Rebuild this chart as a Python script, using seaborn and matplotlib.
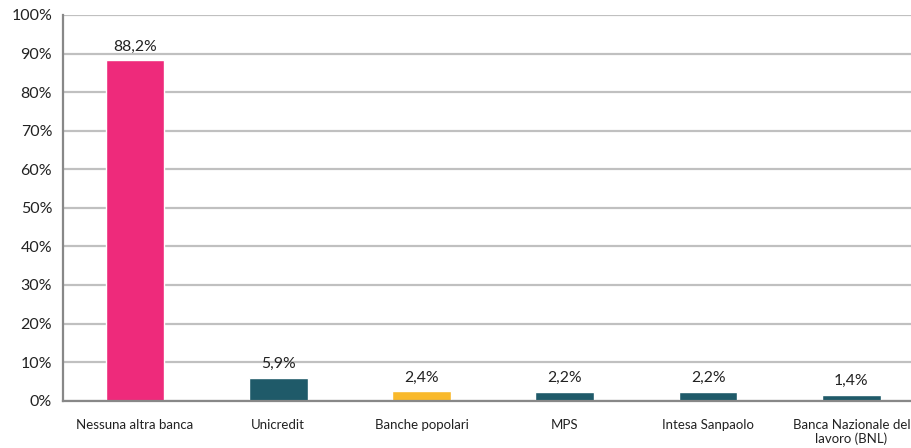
import seaborn as sns
import matplotlib.pyplot as plt
import pandas as pd
import numpy as np
from matplotlib.ticker import FixedLocator, PercentFormatter

categories = ["Nessuna altra banca", "Unicredit", "Banche popolari", "MPS",
              "Intesa Sanpaolo", "Banca Nazionale del\nlavoro (BNL)"]
values = [88.2, 5.9, 2.4, 2.2, 2.2, 1.4]
labels = ["88,2%", "5,9%", "2,4%", "2,2%", "2,2%", "1,4%"]
colors = ["#EE2A7B", "#1F5A69", "#F9B92B", "#1F5A69", "#1F5A69", "#1F5A69"]

df = pd.DataFrame({"cat": categories, "val": values})

sns.set_style("white")
plt.rcParams['font.family'] = ['Lato', 'DejaVu Sans']

fig = plt.figure(figsize=(9.11, 4.48), dpi=100)
ax = fig.add_axes([0.0695, 0.1056, 0.9437, 0.861])

sns.barplot(data=df, x="cat", y="val", hue="cat", palette=colors,
            width=0.41, legend=False, ax=ax, saturation=1)

ax.set_ylim(0, 100)
ax.set_xlim(-0.5, 5.5)
ax.yaxis.set_major_locator(FixedLocator(np.arange(0, 101, 10)))
ax.yaxis.set_major_formatter(PercentFormatter(decimals=0))
ax.grid(axis="y", color="#C0C0C0", linewidth=1.6, zorder=0)
ax.set_axisbelow(True)

for s in ["top", "right"]:
    ax.spines[s].set_visible(False)
for s in ["left", "bottom"]:
    ax.spines[s].set_color("#888888")
    ax.spines[s].set_linewidth(1.6)

ax.tick_params(axis="y", length=5, width=1.6, color="#888888", direction="out",
               labelsize=11.5, labelcolor="#222222", pad=3)
ax.tick_params(axis="x", which="major", length=0, labelsize=9.5, labelcolor="#222222", pad=13)
ax.xaxis.set_minor_locator(FixedLocator(np.arange(-0.5, 6, 1.0)))
ax.tick_params(axis="x", which="minor", length=4, width=1.6, color="#888888", direction="out")

for i, (v, t) in enumerate(zip(values, labels)):
    ax.text(i, v + 1.8, t, ha="center", va="bottom", fontsize=11.3, color="#222222")

ax.set_xlabel("")
ax.set_ylabel("")

plt.savefig("out.png", dpi=100)
